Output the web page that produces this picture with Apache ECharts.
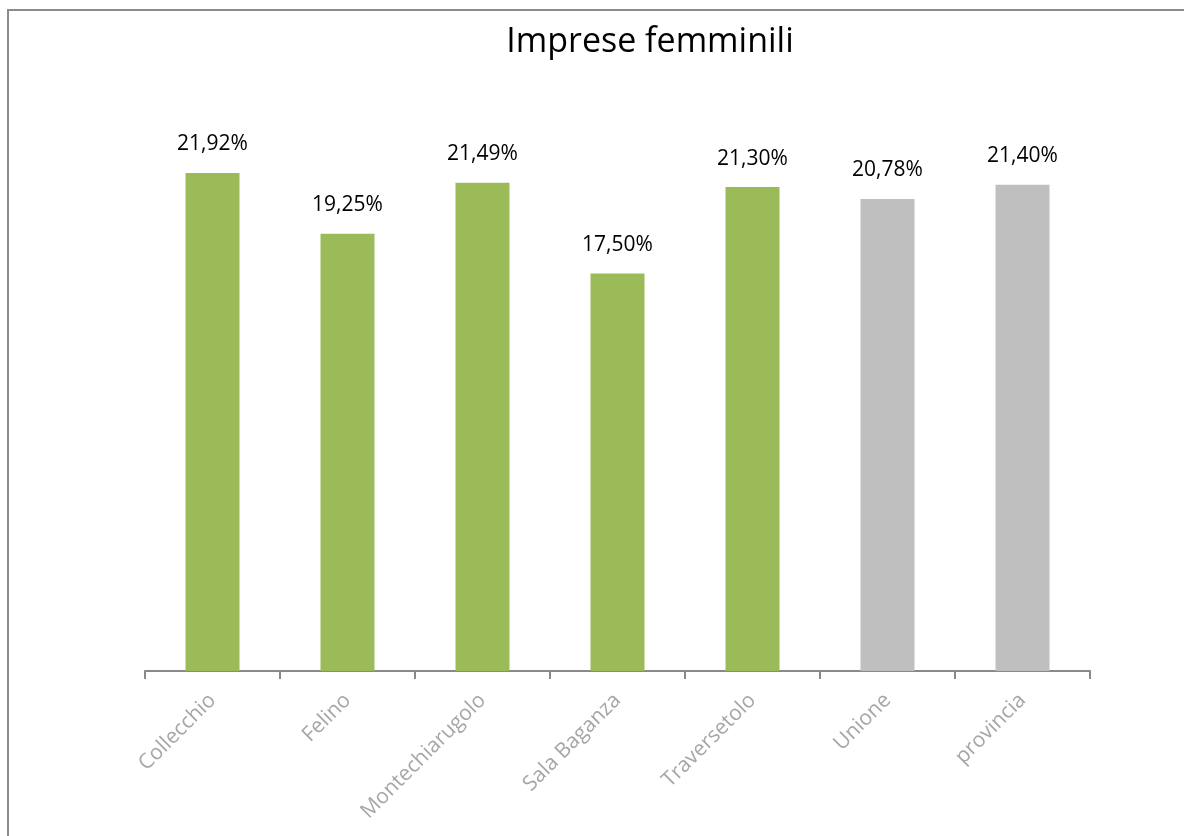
<!DOCTYPE html>
<html>
<head>
<meta charset="utf-8">
<script src="https://cdn.jsdelivr.net/npm/echarts@6/dist/echarts.min.js"></script>
<style>
  html, body { margin: 0; padding: 0; background: #fff; overflow: hidden; }
  #frame {
    position: absolute; left: 7px; top: 9px; width: 1300px; height: 1000px;
    border-left: 2px solid #8c8c8c; border-top: 2px solid #8c8c8c;
  }
  #chart { position: absolute; left: 0; top: 0; width: 1184px; height: 836px; }
</style>
</head>
<body>
<div id="frame"></div>
<div id="chart"></div>
<script>
const categories = ['Collecchio', 'Felino', 'Montechiarugolo', 'Sala Baganza', 'Traversetolo', 'Unione', 'provincia']
const values = [21.92, 19.25, 21.49, 17.50, 21.30, 20.78, 21.40]
const barColors = ['#9BBB59', '#9BBB59', '#9BBB59', '#9BBB59', '#9BBB59', '#BFBFBF', '#BFBFBF']

const myChart = echarts.init(document.getElementById('chart'))
myChart.setOption({
  animation: false,
  textStyle: { fontFamily: 'Open Sans' },
  title: {
    text: 'Imprese femminili',
    left: 645,
    top: 20,
    textAlign: 'center',
    textStyle: { fontSize: 34, fontWeight: 'normal', color: '#000', fontFamily: 'Open Sans' }
  },
  grid: { left: 145, right: 94, top: 103, bottom: 165 },
  xAxis: {
    type: 'category',
    data: categories,
    axisLine: { lineStyle: { color: '#898989', width: 2 } },
    axisTick: { show: true, length: 8, interval: 0, lineStyle: { color: '#898989', width: 2 } },
    axisLabel: { rotate: 45, interval: 0, color: '#a6a6a6', fontSize: 21, margin: 26 }
  },
  yAxis: { type: 'value', min: 0, max: 25, show: false },
  series: [{
    type: 'bar',
    barWidth: 54,
    data: values.map((v, i) => ({ value: v, itemStyle: { color: barColors[i] } })),
    label: {
      show: true,
      position: 'top',
      distance: 18,
      fontSize: 21,
      color: '#000',
      formatter: p => p.value.toFixed(2).replace('.', ',') + '%'
    }
  }]
})
</script>
</body>
</html>
